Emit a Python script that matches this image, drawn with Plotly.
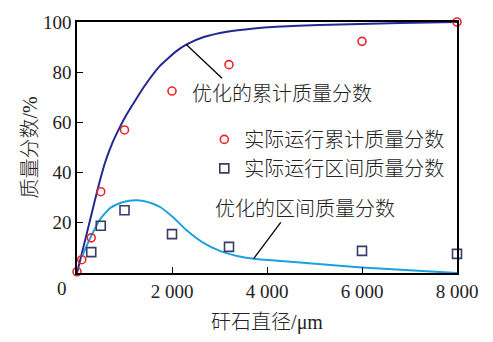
import plotly.graph_objects as go

# Measured (operating) data
size_meas = [0, 100, 300, 500, 1000, 2000, 3200, 6000, 8000]
cum_meas = [0.5, 5.3, 14, 32.4, 57, 72.5, 83, 92.3, 100]
size_int = [300, 500, 1000, 2000, 3200, 6000, 8000]
int_meas = [8.3, 18.8, 25, 15.5, 10.4, 8.8, 7.6]

# Optimized curves
size_opt_cum = [0, 150, 300, 450, 600, 750, 900, 1050, 1200, 1400, 1750, 2100, 2300, 2670, 3160, 3720, 4200, 5100, 6800, 8000]
cum_opt = [0, 11.5, 23, 34.5, 44.5, 52.0, 58.0, 63.3, 67.9, 73.9, 82.6, 88.5, 91.0, 94.0, 96.1, 97.4, 98.1, 98.8, 99.6, 100]
size_opt_int = [105, 280, 490, 700, 910, 1100, 1250, 1400, 1600, 1750, 2035, 2320, 2670, 3020, 3370, 3720, 4210, 4630, 6000, 8000]
int_opt = [6.6, 14, 21.5, 25.9, 27.9, 28.8, 29.0, 28.7, 27.6, 26.3, 22.0, 16.8, 11.9, 8.7, 6.8, 5.7, 4.9, 4.3, 2.2, 0]

x_ticks = [2000, 4000, 6000, 8000]
x_ticktext = ["2 000", "4 000", "6 000", "8 000"]
y_ticks = [20, 40, 60, 80, 100]

FONT = "Liberation Serif, Noto Sans CJK SC"
FS = 19
TXT = dict(family=FONT, size=20, color="#222", weight=300)

fig = go.Figure()
fig.add_trace(go.Scatter(x=size_opt_cum, y=cum_opt, mode="lines",
                         line=dict(color="#25288f", width=2, shape="spline", smoothing=0.5),
                         showlegend=False, cliponaxis=False))
fig.add_trace(go.Scatter(x=size_opt_int, y=int_opt, mode="lines",
                         line=dict(color="#1ba1dd", width=2, shape="spline", smoothing=0.5),
                         showlegend=False, cliponaxis=False))
fig.add_trace(go.Scatter(x=size_meas, y=cum_meas, mode="markers", name="实际运行累计质量分数",
                         marker=dict(symbol="circle-open", size=8, color="#e8262a", line=dict(width=1.6)),
                         cliponaxis=False))
fig.add_trace(go.Scatter(x=size_int, y=int_meas, mode="markers", name="实际运行区间质量分数",
                         marker=dict(symbol="square-open", size=9, color="#3a3a6c", line=dict(width=1.6)),
                         cliponaxis=False))

# Leader lines from curves to their labels
fig.add_shape(type="line", x0=size_opt_cum[12], y0=cum_opt[12], x1=3053, y1=77.6, line=dict(color="black", width=1.3))
fig.add_shape(type="line", x0=size_opt_int[15], y0=int_opt[15], x1=4290, y1=20.2, line=dict(color="black", width=1.3))

fig.add_annotation(x=2380, y=71.5, text="优化的累计质量分数", showarrow=False, xanchor="left", yanchor="middle", font=TXT)
fig.add_annotation(x=2860, y=25.4, text="优化的区间质量分数", showarrow=False, xanchor="left", yanchor="middle", font=TXT)
# Shared origin label
fig.add_annotation(xref="paper", yref="paper", x=-0.04, y=-0.063, text="0", showarrow=False,
                   xanchor="center", yanchor="middle", font=dict(family=FONT, size=FS, color="#222"))

fig.update_layout(
    width=493, height=342,
    margin=dict(l=77, r=36, t=13, b=61),
    plot_bgcolor="white", paper_bgcolor="white",
    font=dict(family=FONT, size=FS, color="#222"),
    legend=dict(x=0.335, y=0.61, xanchor="left", yanchor="top", bgcolor="rgba(0,0,0,0)",
                font=TXT, itemwidth=30, tracegroupgap=0),
    xaxis=dict(range=[0, 8000], tickvals=x_ticks, ticktext=x_ticktext, ticks="inside", ticklen=6,
               tickcolor="black", tickwidth=1.3, showline=True, linecolor="black", linewidth=1.5, mirror=True,
               showgrid=False, zeroline=False,
               title=dict(text="矸石直径/μm", font=TXT, standoff=14)),
    yaxis=dict(range=[0, 100], tickvals=y_ticks, ticks="inside", ticklen=6,
               tickcolor="black", tickwidth=1.3, showline=True, linecolor="black", linewidth=1.5, mirror=True,
               showgrid=False, zeroline=False,
               title=dict(text="质量分数/%", font=TXT, standoff=0)),
)

fig.write_html("out.html")
